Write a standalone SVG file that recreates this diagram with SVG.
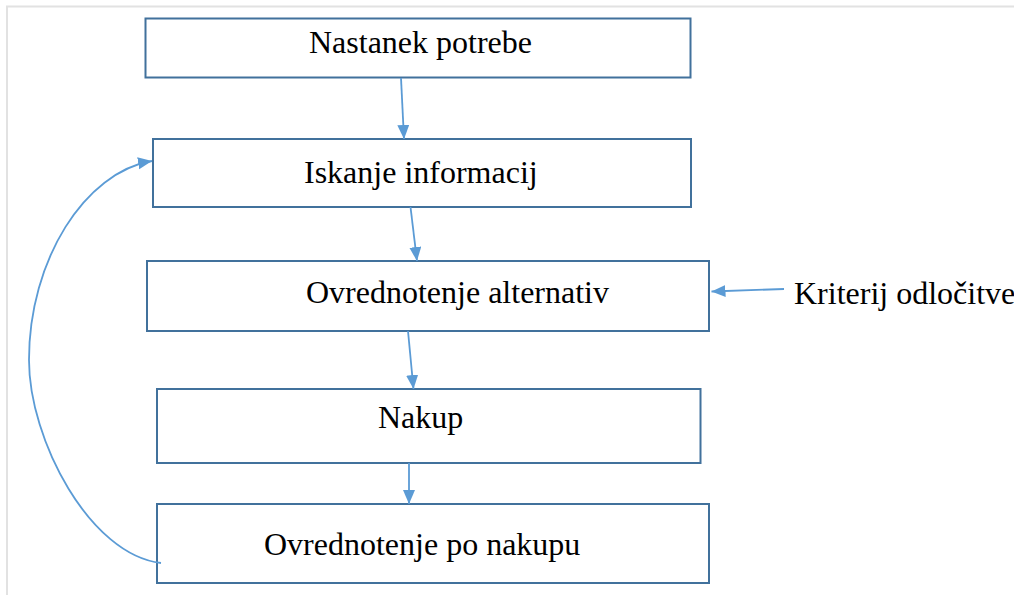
<svg xmlns="http://www.w3.org/2000/svg" width="1014" height="595" viewBox="0 0 1014 595">
<style>
.box{fill:#ffffff;stroke:#41719c;stroke-width:2}
.lbl{font-family:"Liberation Serif","Times New Roman",serif;font-size:32px;fill:#000000}
.con{fill:none;stroke:#5b9bd5;stroke-width:1.8}
.frame{stroke:#e2e2e2;stroke-width:2;fill:none}
</style>
<defs>
<marker id="ah" markerUnits="userSpaceOnUse" markerWidth="16" markerHeight="14" refX="14" refY="6" orient="auto">
<path d="M0,0 L14,6 L0,12 z" fill="#5b9bd5"/>
</marker>
</defs>
<rect width="1014" height="595" fill="#ffffff"/>
<path class="frame" d="M7,595 V6.5 H1014"/>
<g id="n1"><rect class="box" x="145.5" y="18.5" width="545" height="59"/><text class="lbl" x="309" y="53">Nastanek potrebe</text></g>
<g id="n2"><rect class="box" x="153" y="139" width="538" height="68"/><text class="lbl" x="304" y="183">Iskanje informacij</text></g>
<g id="n3"><rect class="box" x="147" y="261" width="562" height="70"/><text class="lbl" x="306" y="303">Ovrednotenje alternativ</text></g>
<g id="n4"><rect class="box" x="157" y="389" width="543.5" height="74"/><text class="lbl" x="378" y="428">Nakup</text></g>
<g id="n5"><rect class="box" x="157" y="504" width="552" height="79"/><text class="lbl" x="264" y="555">Ovrednotenje po nakupu</text></g>
<g id="n6"><text class="lbl" x="794" y="304">Kriterij odločitve</text></g>
<g id="connectors">
<path class="con" d="M401,78 L404,139" marker-end="url(#ah)"/>
<path class="con" d="M410.5,207 L417,261" marker-end="url(#ah)"/>
<path class="con" d="M408,331 L413.5,389" marker-end="url(#ah)"/>
<path class="con" d="M409,463 L409,504" marker-end="url(#ah)"/>
<path class="con" d="M784,289 L711.5,291.5" marker-end="url(#ah)"/>
<path class="con" d="M161,563 C90,555 29,440 29,360 C29,260 85,172 152,161" marker-end="url(#ah)"/>
</g>
</svg>
